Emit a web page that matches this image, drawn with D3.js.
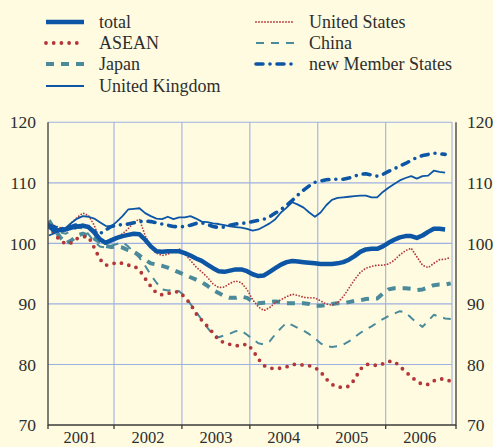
<!DOCTYPE html>
<html>
<head>
<meta charset="utf-8">
<script src="https://cdn.jsdelivr.net/npm/d3@7"></script>
<style>
  body { margin: 0; background: #fefbe0; }
  svg { display: block; }
  svg text { font-family: 'Liberation Serif', Tinos, 'Times New Roman', serif; }
</style>
</head>
<body>
<svg id="chart"></svg>
<script>
// monthly indices 2001-01 .. 2006-12, base = 100
const YEARS = [2001, 2002, 2003, 2004, 2005, 2006];
const Y_TICKS = [70, 80, 90, 100, 110, 120];

const TOTAL = [102.8, 102.1, 102.2, 102.3, 102.6, 102.8, 102.9, 102.7, 101.8, 100.7, 100.1, 100.5,
  100.9, 101.2, 101.4, 101.6, 101.5, 100.6, 99.5, 98.7, 98.6, 98.7, 98.7, 98.7,
  98.4, 98.0, 97.5, 97.1, 96.5, 95.9, 95.4, 95.3, 95.5, 95.7, 95.7, 95.4,
  94.9, 94.6, 94.7, 95.3, 95.9, 96.5, 96.9, 97.1, 97.0, 96.9, 96.8, 96.7,
  96.6, 96.6, 96.6, 96.7, 96.9, 97.3, 97.9, 98.6, 99.0, 99.1, 99.1, 99.5,
  100.1, 100.6, 101.0, 101.2, 101.2, 100.9, 101.3, 101.9, 102.4, 102.4, 102.3];

const ASEAN = [103.0, 101.5, 100.5, 99.9, 100.1, 100.8, 101.1, 101.1, 99.3, 97.4, 96.4, 96.5,
  96.9, 96.7, 96.4, 96.3, 95.6, 94.2, 92.9, 91.8, 91.5, 91.7, 92.0, 92.0,
  91.1, 90.0, 88.4, 87.3, 86.3, 85.2, 84.0, 83.6, 83.3, 83.1, 83.1, 83.4,
  82.4, 80.9, 79.8, 79.4, 79.3, 79.4, 79.6, 80.0, 80.0, 79.9, 79.8, 79.5,
  78.8, 77.6, 76.7, 76.3, 76.2, 76.4, 77.5, 79.2, 80.0, 80.0, 79.8, 80.1,
  80.5, 80.5, 79.7, 78.8, 78.0, 77.2, 76.7, 76.7, 77.3, 77.6, 77.6, 77.2];

const JAPAN = [103.8, 102.2, 101.0, 100.0, 100.5, 101.3, 101.6, 101.3, 100.8, 100.2, 99.6, 99.4,
  99.5, 99.3, 98.9, 98.6, 98.0, 97.3, 96.7, 96.5, 96.3, 96.0, 95.6, 95.2,
  94.8, 94.4, 94.0, 93.6, 93.0, 92.3, 91.8, 91.3, 91.0, 91.0, 91.2, 91.0,
  90.4, 90.1, 90.2, 90.3, 90.4, 90.3, 90.1, 90.1, 90.1, 90.1, 90.0, 89.7,
  89.7, 89.8, 90.0, 90.1, 90.1, 90.3, 90.5, 90.6, 90.8, 90.9, 90.9, 91.7,
  92.4, 92.6, 92.6, 92.6, 92.5, 92.3, 92.4, 92.7, 93.1, 93.2, 93.2, 93.4];

const UK = [101.3, 101.7, 102.1, 102.6, 103.4, 104.1, 104.5, 104.4, 104.1, 103.5, 102.9, 102.8,
  103.6, 104.5, 105.6, 105.7, 105.8, 105.0, 104.5, 104.1, 104.0, 104.4, 104.0, 104.3,
  104.3, 104.5, 104.1, 103.6, 103.5, 103.3, 103.2, 103.0, 102.8, 102.7, 102.6, 102.4,
  102.1, 102.3, 102.8, 103.3, 104.0, 105.1, 105.9, 106.8, 106.4, 105.9, 105.1, 104.4,
  105.1, 106.3, 107.2, 107.5, 107.6, 107.7, 107.8, 107.9, 107.9, 107.6, 107.6, 108.5,
  109.2, 109.8, 110.4, 110.8, 111.1, 110.7, 111.1, 111.2, 112.0, 111.8, 111.7];

const US = [103.3, 102.9, 102.6, 102.4, 103.4, 104.3, 105.0, 104.6, 103.0, 100.6, 100.1, 100.8,
  101.1, 101.6, 102.4, 103.5, 104.0, 101.3, 99.4, 98.4, 98.0, 98.2, 98.7, 99.1,
  98.3, 97.2, 96.1, 95.3, 94.4, 93.3, 92.7, 92.8, 93.4, 93.8, 93.5, 92.4,
  90.7, 89.5, 88.9, 89.4, 90.2, 90.7, 91.2, 91.6, 91.4, 91.1, 91.0, 91.0,
  90.5, 90.0, 89.8, 90.2, 91.2, 92.6, 94.0, 95.2, 95.9, 96.2, 96.4, 96.4,
  96.6, 97.2, 98.1, 98.8, 99.2, 97.8, 96.4, 96.0, 96.7, 97.3, 97.4, 97.7];

const CHINA = [103.3, 102.5, 101.8, 101.6, 102.1, 102.6, 102.5, 101.5, 100.3, 99.5, 99.3, 99.6,
  99.9, 100.2, 99.5, 98.6, 97.6, 96.3, 94.8, 93.5, 92.4, 92.2, 92.3, 92.1,
  91.3, 90.0, 88.7, 87.4, 86.1, 84.9, 84.5, 84.8, 85.1, 85.5, 85.6, 84.9,
  84.2, 83.5, 83.3, 83.8, 85.0, 86.0, 86.9, 86.5, 86.0, 85.6, 85.0, 84.3,
  83.5, 83.0, 82.9, 83.0, 83.3, 83.8, 84.5, 85.2, 85.8, 86.3, 86.9, 87.5,
  88.0, 88.4, 88.8, 88.6, 87.7, 86.9, 86.2, 87.2, 88.2, 87.9, 87.6, 87.5];

const NMS = [103.0, 102.7, 102.4, 102.5, 102.8, 103.1, 103.0, 102.6, 102.0, 101.6, 102.2, 102.8,
  103.0, 103.1, 103.2, 103.4, 103.6, 103.7, 103.6, 103.4, 103.2, 103.0, 102.8, 102.7,
  102.8, 103.0, 103.3, 103.4, 103.1, 102.8, 102.6, 102.7, 103.0, 103.2, 103.3, 103.4,
  103.6, 103.8, 104.0, 104.4, 105.0, 105.6, 106.3, 107.1, 108.0, 108.8, 109.5, 110.1,
  110.3, 110.5, 110.6, 110.6, 110.6, 110.8, 111.1, 111.4, 111.5, 111.3, 111.1, 111.4,
  111.9, 112.3, 112.8, 113.2, 113.7, 114.2, 114.5, 114.7, 114.9, 114.8, 114.7];

const BLUE = '#0d56a6', RED = '#b3373a', TEAL = '#4a8a9b';
const BG = '#fefbe0', GRID = '#9eb0e2', AXIS = '#3a3a3a', TEXT = '#2e2e2e';

// draw order: first = bottom
const SERIES = [
  { name: 'China',              values: CHINA, color: TEAL, width: 2,   dash: '8 7',     cap: 'butt'  },
  { name: 'Japan',              values: JAPAN, color: TEAL, width: 4,   dash: '8 7',     cap: 'butt'  },
  { name: 'United States',      values: US,    color: RED,  width: 1.8, dash: '0 3',     cap: 'round' },
  { name: 'ASEAN',              values: ASEAN, color: RED,  width: 3.8, dash: '0 7.7',   cap: 'round' },
  { name: 'new Member States',  values: NMS,   color: BLUE, width: 3.6, dash: '7 7 0 7', cap: 'round' },
  { name: 'United Kingdom',     values: UK,    color: BLUE, width: 1.8, dash: null,      cap: 'butt'  },
  { name: 'total',              values: TOTAL, color: BLUE, width: 4.5, dash: null,      cap: 'butt'  },
];
const LEGEND_LEFT  = ['total', 'ASEAN', 'Japan', 'United Kingdom'];
const LEGEND_RIGHT = ['United States', 'China', 'new Member States'];

const W = 493, H = 447;
const P = { left: 48, right: 452, top: 122.3, bottom: 425, axisR: 456 };

const svg = d3.select('#chart').attr('width', W).attr('height', H);
svg.append('rect').attr('width', W).attr('height', H).attr('fill', BG);

// year boundaries a little wider than the plot frame, like the original
const x = d3.scaleLinear().domain([2001, 2007]).range([46.1, 453.6]);
const y = d3.scaleLinear().domain([70, 120]).range([P.bottom, P.top]);
const monthT = i => 2001 + (i + 0.5) / 12;

svg.append('defs').append('clipPath').attr('id', 'plot-clip')
  .append('rect').attr('x', P.left).attr('y', P.top - 10)
  .attr('width', P.right - P.left).attr('height', P.bottom - P.top + 10);

// ── grid ──────────────────────────────────────────────────────────────
const grid = svg.append('g').attr('stroke', GRID).attr('stroke-width', 1.1);
Y_TICKS.filter(v => v > 70).forEach(v => {
  grid.append('line').attr('x1', P.left).attr('x2', P.right)
    .attr('y1', y(v)).attr('y2', y(v));
});
YEARS.slice(1).forEach(yr => {
  grid.append('line').attr('x1', x(yr)).attr('x2', x(yr))
    .attr('y1', y(120)).attr('y2', y(70));
});
grid.append('line').attr('x1', P.right).attr('x2', P.right)
  .attr('y1', y(120)).attr('y2', y(70));

// ── series ────────────────────────────────────────────────────────────
const line = d3.line().x((d, i) => x(monthT(i))).y(d => y(d));
const linesG = svg.append('g').attr('clip-path', 'url(#plot-clip)');
SERIES.forEach(s => {
  linesG.append('path').datum(s.values)
    .attr('d', line)
    .attr('fill', 'none')
    .attr('stroke', s.color)
    .attr('stroke-width', s.width)
    .attr('stroke-linecap', s.cap)
    .attr('stroke-linejoin', 'round')
    .attr('stroke-dasharray', s.dash);
});

// ── axes ──────────────────────────────────────────────────────────────
const ax = svg.append('g').attr('stroke', AXIS).attr('stroke-width', 1.3);
ax.append('line').attr('x1', P.left).attr('x2', P.left).attr('y1', y(120)).attr('y2', P.bottom + 0.6);
ax.append('line').attr('x1', P.axisR).attr('x2', P.axisR).attr('y1', y(120)).attr('y2', P.bottom + 0.6);
ax.append('line').attr('x1', P.left).attr('x2', P.axisR).attr('y1', P.bottom).attr('y2', P.bottom);
[P.left, ...YEARS.slice(1).map(x), P.axisR].forEach(px => {
  ax.append('line').attr('x1', px).attr('x2', px).attr('y1', P.bottom).attr('y2', P.bottom + 4);
});

const txt = svg.append('g').attr('fill', TEXT);
Y_TICKS.forEach(v => {
  txt.append('text').attr('x', 36).attr('y', y(v)).attr('dy', '0.35em')
    .attr('text-anchor', 'end').attr('font-size', 17.5).text(v);
  txt.append('text').attr('x', 467).attr('y', y(v)).attr('dy', '0.35em')
    .attr('text-anchor', 'start').attr('font-size', 17.5).text(v);
});
YEARS.forEach(yr => {
  txt.append('text').attr('x', x(yr + 0.5)).attr('y', 442.5)
    .attr('text-anchor', 'middle').attr('font-size', 16.5).text(yr);
});

// ── legend ────────────────────────────────────────────────────────────
const ROW_Y = [22, 43, 64, 86];
function legendCol(names, x0, x1, tx) {
  names.forEach((n, i) => {
    const s = SERIES.find(d => d.name === n);
    svg.append('line').attr('x1', x0).attr('x2', x1)
      .attr('y1', ROW_Y[i]).attr('y2', ROW_Y[i])
      .attr('stroke', s.color).attr('stroke-width', s.width)
      .attr('stroke-linecap', s.cap).attr('stroke-dasharray', s.dash);
    txt.append('text').attr('x', tx).attr('y', ROW_Y[i] + 6)
      .attr('font-size', 18).text(n);
  });
}
legendCol(LEGEND_LEFT, 46, 84, 99);
legendCol(LEGEND_RIGHT, 256, 294, 309);
</script>
</body>
</html>
